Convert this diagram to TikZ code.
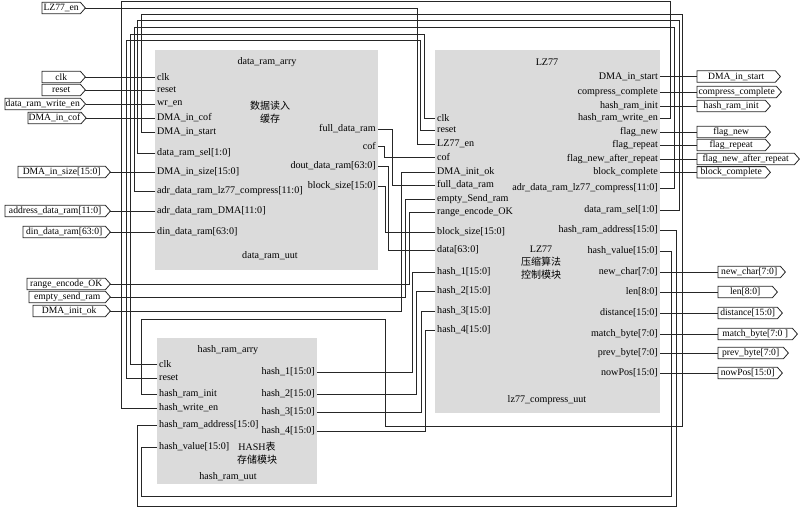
\documentclass[tikz,border=0pt]{standalone}
\usepackage{fontspec}
\setmainfont{Liberation Serif}
\newfontfamily\cjk{Noto Sans CJK SC}
\tikzset{
  wire/.style={draw=black!85, line width=0.95pt},
  blk/.style={fill=black!14, draw=none, inner sep=0pt, outer sep=0pt},
  pl/.style={anchor=west, inner sep=2pt},
  pr/.style={anchor=east, inner sep=2pt},
  lbl/.style={inner sep=0pt},
  sigtext/.style={anchor=west, inner xsep=0.5pt, inner ysep=0pt, minimum height=11pt, font=\fontsize{9.6}{11}\selectfont},
  sigframe/.style={draw=black!85, line width=0.8pt}
}
\newcommand\sigport[5]{% name, left x, rect right x, y, text
  \node[sigtext, minimum width={(#3-#2)*1pt}] (#1) at (#2,#4) {#5};
  \draw[sigframe] (#1.north west) -- (#1.north east) -- ([xshift=5pt]#1.east) -- (#1.south east) -- (#1.south west) -- cycle;
  \coordinate (#1-tip) at ([xshift=5pt]#1.east);
}
\begin{document}
\begin{tikzpicture}[x=1pt,y=-1pt, font=\fontsize{10.1}{11}\selectfont]
\useasboundingbox (0,0) rectangle (800,507);
% ---------- blocks
\node[blk, minimum width=223pt, minimum height=220pt] (dram) at (266.5,160) {};
\node[blk, minimum width=225pt, minimum height=363pt] (lz) at (547.5,231.5) {};
\node[blk, minimum width=160pt, minimum height=146pt] (hram) at (237,411) {};
% ---------- data_ram texts
\node[lbl] (dram-t) at (267,62) {data\_ram\_arry};
\node[lbl, align=center, font=\cjk\fontsize{10}{12.5}\selectfont] (dram-c) at (270,112) {数据读入\\缓存};
\node[lbl] (dram-u) at (270,256) {data\_ram\_uut};
\node[pl] (d-clk) at (155,77) {clk};
\node[pl] (d-rst) at (155,90) {reset};
\node[pl] (d-wren) at (155,104) {wr\_en};
\node[pl] (d-cof) at (155,118) {DMA\_in\_cof};
\node[pl] (d-start) at (155,132) {DMA\_in\_start};
\node[pl] (d-sel) at (155,153) {data\_ram\_sel[1:0]};
\node[pl] (d-size) at (155,172) {DMA\_in\_size[15:0]};
\node[pl] (d-adrlz) at (155,191) {adr\_data\_ram\_lz77\_compress[11:0]};
\node[pl] (d-adrdma) at (155,211) {adr\_data\_ram\_DMA[11:0]};
\node[pl] (d-din) at (155,232) {din\_data\_ram[63:0]};
\node[pr] (d-full) at (378,129) {full\_data\_ram};
\node[pr] (d-cofo) at (378,146) {cof};
\node[pr] (d-dout) at (378,166) {dout\_data\_ram[63:0]};
\node[pr] (d-bs) at (378,186) {block\_size[15:0]};
% ---------- LZ77 texts
\node[lbl] (lz-t) at (547,62) {LZ77};
\node[lbl, align=center, font=\fontsize{10}{13}\selectfont] (lz-c) at (541,263) {LZ77\\{\cjk 压缩算法}\\{\cjk 控制模块}};
\node[lbl] (lz-u) at (547,400) {lz77\_compress\_uut};
\node[pl] (l-clk) at (435,118) {clk};
\node[pl] (l-rst) at (435,130) {reset};
\node[pl] (l-en) at (435,144) {LZ77\_en};
\node[pl] (l-cof) at (435,157) {cof};
\node[pl] (l-initok) at (435,172) {DMA\_init\_ok};
\node[pl] (l-full) at (435,185) {full\_data\_ram};
\node[pl] (l-empty) at (435,199) {empty\_Send\_ram};
\node[pl] (l-range) at (435,212) {range\_encode\_OK};
\node[pl] (l-bs) at (435,232) {block\_size[15:0]};
\node[pl] (l-data) at (435,250) {data[63:0]};
\node[pl] (l-h1) at (435,272) {hash\_1[15:0]};
\node[pl] (l-h2) at (435,291) {hash\_2[15:0]};
\node[pl] (l-h3) at (435,311) {hash\_3[15:0]};
\node[pl] (l-h4) at (435,330) {hash\_4[15:0]};
\node[pr] (l-start) at (660,76.5) {DMA\_in\_start};
\node[pr] (l-cc) at (660,92) {compress\_complete};
\node[pr] (l-hinit) at (660,106) {hash\_ram\_init};
\node[pr] (l-hwe) at (660,118) {hash\_ram\_write\_en};
\node[pr] (l-fnew) at (660,132) {flag\_new};
\node[pr] (l-frep) at (660,145) {flag\_repeat};
\node[pr] (l-fnar) at (660,159) {flag\_new\_after\_repeat};
\node[pr] (l-bc) at (660,172.3) {block\_complete};
\node[pr] (l-adr) at (660,188) {adr\_data\_ram\_lz77\_compress[11:0]};
\node[pr] (l-sel) at (660,210) {data\_ram\_sel[1:0]};
\node[pr] (l-hra) at (660,230) {hash\_ram\_address[15:0]};
\node[pr] (l-hv) at (660,251) {hash\_value[15:0]};
\node[pr] (l-nc) at (660,272) {new\_char[7:0]};
\node[pr] (l-len) at (660,292) {len[8:0]};
\node[pr] (l-dist) at (660,313) {distance[15:0]};
\node[pr] (l-mb) at (660,334) {match\_byte[7:0]};
\node[pr] (l-pb) at (660,353) {prev\_byte[7:0]};
\node[pr] (l-np) at (660,373) {nowPos[15:0]};
% ---------- hash texts
\node[lbl] (h-t) at (228,350) {hash\_ram\_arry};
\node[lbl, align=center, font=\fontsize{10}{13}\selectfont] (h-c) at (257,453) {HASH{\cjk 表}\\{\cjk 存储模块}};
\node[lbl] (h-u) at (228,477) {hash\_ram\_uut};
\node[pl] (h-clk) at (157,364) {clk};
\node[pl] (h-rst) at (157,378) {reset};
\node[pl] (h-init) at (157,394) {hash\_ram\_init};
\node[pl] (h-we) at (157,408) {hash\_write\_en};
\node[pl] (h-adr) at (157,425) {hash\_ram\_address[15:0]};
\node[pl] (h-val) at (157,447) {hash\_value[15:0]};
\node[pr] (h-1) at (317,372) {hash\_1[15:0]};
\node[pr] (h-2) at (317,394) {hash\_2[15:0]};
\node[pr] (h-3) at (317,412) {hash\_3[15:0]};
\node[pr] (h-4) at (317,431) {hash\_4[15:0]};
% ---------- input signal ports
\sigport{i-en}{42}{80}{8}{LZ77\_en}
\sigport{i-clk}{42}{80}{77}{clk}
\sigport{i-rst}{42}{80}{90}{reset}
\sigport{i-wr}{5}{80}{104}{data\_ram\_write\_en}
\sigport{i-cof}{28}{80}{118}{DMA\_in\_cof}
\sigport{i-size}{18}{105}{172}{DMA\_in\_size[15:0]}
\sigport{i-addr}{5}{105}{211}{address\_data\_ram[11:0]}
\sigport{i-din}{23}{105}{232}{din\_data\_ram[63:0]}
\sigport{i-range}{27}{105}{284}{range\_encode\_OK}
\sigport{i-empty}{29}{105}{297}{empty\_send\_ram}
\sigport{i-initok}{33}{105}{311}{DMA\_init\_ok}
% ---------- output signal ports
\sigport{o-start}{697}{775}{76.5}{DMA\_in\_start}
\sigport{o-cc}{697}{776}{92}{compress\_complete}
\sigport{o-hinit}{697}{765}{106}{hash\_ram\_init}
\sigport{o-fnew}{697}{765}{132}{flag\_new}
\sigport{o-frep}{697}{765}{145}{flag\_repeat}
\sigport{o-fnar}{697}{794}{159}{flag\_new\_after\_repeat}
\sigport{o-bc}{697}{765}{172.3}{block\_complete}
\sigport{o-nc}{718}{780}{272}{new\_char[7:0]}
\sigport{o-len}{718}{772}{292}{len[8:0]}
\sigport{o-dist}{718}{777}{313}{distance[15:0]}
\sigport{o-mb}{718}{792}{334}{match\_byte[7:0 ]}
\sigport{o-pb}{718}{783}{353}{prev\_byte[7:0]}
\sigport{o-np}{718}{777}{373}{nowPos[15:0]}
% ---------- wires: inputs
\draw[wire] (i-clk-tip) -- (d-clk.west);
\draw[wire] (i-rst-tip) -- (d-rst.west);
\draw[wire] (i-wr-tip) -- (d-wren.west);
\draw[wire] (i-cof-tip) -- (d-cof.west);
\draw[wire] (i-size-tip) -- (d-size.west);
\draw[wire] (i-addr-tip) -- (d-adrdma.west);
\draw[wire] (i-din-tip) -- (d-din.west);
\draw[wire] (i-en-tip) -- (417,8) -- (417,144) -- (l-en.west);
\draw[wire] (i-range-tip) -- (409,284) -- (409,212) -- (l-range.west);
\draw[wire] (i-empty-tip) -- (405,297) -- (405,199) -- (l-empty.west);
\draw[wire] (i-initok-tip) -- (401.7,311) -- (401.7,172) -- (l-initok.west);
% ---------- wires: long loops
\draw[wire] (h-clk.west) -- (130.7,364) -- (130.7,34) -- (424,34) -- (424,118) -- (l-clk.west);
\draw[wire] (h-rst.west) -- (126.7,378) -- (126.7,40.7) -- (420,40.7) -- (420,130) -- (l-rst.west);
\draw[wire] (h-we.west) -- (121.7,408) -- (121.7,1) -- (670,1) -- (670,118) -- (l-hwe.east);
\draw[wire] (d-start.west) -- (141.7,132) -- (141.7,14) -- (682.7,14) -- (682.7,426) -- (385,426) -- (385,319) -- (141.7,319) -- (141.7,394) -- (h-init.west);
\draw[wire] (d-sel.west) -- (137.7,153) -- (137.7,20.7) -- (679.5,20.7) -- (679.5,210) -- (l-sel.east);
\draw[wire] (d-adrlz.west) -- (134.3,191) -- (134.3,27.3) -- (674,27.3) -- (674,188) -- (l-adr.east);
\draw[wire] (l-hra.east) -- (676.5,230) -- (676.5,506) -- (137.7,506) -- (137.7,425) -- (h-adr.west);
\draw[wire] (l-hv.east) -- (671.7,251) -- (671.7,496) -- (141.7,496) -- (141.7,447) -- (h-val.west);
% ---------- wires: data_ram -> LZ77
\draw[wire] (d-full.east) -- (392.3,129) -- (392.3,185) -- (l-full.west);
\draw[wire] (d-cofo.east) -- (384,146) -- (384,157) -- (l-cof.west);
\draw[wire] (d-dout.east) -- (388,166) -- (388,250) -- (l-data.west);
\draw[wire] (d-bs.east) -- (385,186) -- (385,232) -- (l-bs.west);
% ---------- wires: hash -> LZ77
\draw[wire] (h-1.east) -- (412.7,372) -- (412.7,272) -- (l-h1.west);
\draw[wire] (h-2.east) -- (416.7,394) -- (416.7,291) -- (l-h2.west);
\draw[wire] (h-3.east) -- (421,412) -- (421,311) -- (l-h3.west);
\draw[wire] (h-4.east) -- (425,431) -- (425,330) -- (l-h4.west);
% ---------- wires: outputs
\draw[wire] (l-start.east) -- (o-start.west);
\draw[wire] (l-cc.east) -- (o-cc.west);
\draw[wire] (l-hinit.east) -- (o-hinit.west);
\draw[wire] (l-fnew.east) -- (o-fnew.west);
\draw[wire] (l-frep.east) -- (o-frep.west);
\draw[wire] (l-fnar.east) -- (o-fnar.west);
\draw[wire] (l-bc.east) -- (o-bc.west);
\draw[wire] (l-nc.east) -- (o-nc.west);
\draw[wire] (l-len.east) -- (o-len.west);
\draw[wire] (l-dist.east) -- (o-dist.west);
\draw[wire] (l-mb.east) -- (o-mb.west);
\draw[wire] (l-pb.east) -- (o-pb.west);
\draw[wire] (l-np.east) -- (o-np.west);
\end{tikzpicture}
\end{document}
